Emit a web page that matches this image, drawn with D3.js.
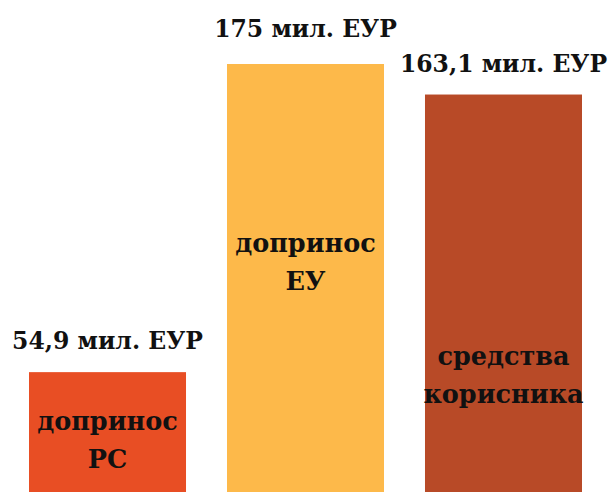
<!DOCTYPE html>
<html>
<head>
<style>
  body { margin: 0; background: #fff; }
  svg text { font-family: "DejaVu Serif", serif; font-weight: bold; fill: #111; }
</style>
<script src="https://d3js.org/d3.v7.min.js"></script>
</head>
<body>
<script>
const names = ["допринос РС", "допринос ЕУ", "средства корисника"];
const values = [54.9, 175, 163.1];
const valueLabels = ["54,9 мил. ЕУР", "175 мил. ЕУР", "163,1 мил. ЕУР"];
const innerLines = [["допринос", "РС"], ["допринос", "ЕУ"], ["средства", "корисника"]];
const colors = ["#e84e24", "#fdb94a", "#b84a27"];

const w = 611, h = 492;
// baseline sits a little below the visible area, bars get cut off
const x = d3.scaleBand().domain(names).range([29, 582]).paddingInner(0.207).paddingOuter(0);
const y = d3.scaleLinear().domain([0, 175]).range([513, 64]);
const innerY = [430, 252, 365];
const labelGap = [23, 27, 23];

const svg = d3.select("body").append("svg")
  .attr("width", w)
  .attr("height", h);

svg.selectAll("rect")
  .data(names)
  .enter()
  .append("rect")
  .attr("x", d => x(d))
  .attr("y", (d, i) => y(values[i]))
  .attr("width", x.bandwidth())
  .attr("height", (d, i) => y(0) - y(values[i]))
  .style("fill", (d, i) => colors[i]);

svg.selectAll("text.val")
  .data(names)
  .enter()
  .append("text")
  .attr("class", "val")
  .attr("x", d => x(d) + x.bandwidth() / 2)
  .attr("y", (d, i) => y(values[i]) - labelGap[i])
  .attr("text-anchor", "middle")
  .style("font-size", "23.5px")
  .text((d, i) => valueLabels[i]);

names.forEach((n, i) => {
  innerLines[i].forEach((line, j) => {
    svg.append("text")
      .attr("x", x(n) + x.bandwidth() / 2)
      .attr("y", innerY[i] + j * 38)
      .attr("text-anchor", "middle")
      .style("font-size", "25.5px")
      .text(line);
  });
});
</script>
</body>
</html>
